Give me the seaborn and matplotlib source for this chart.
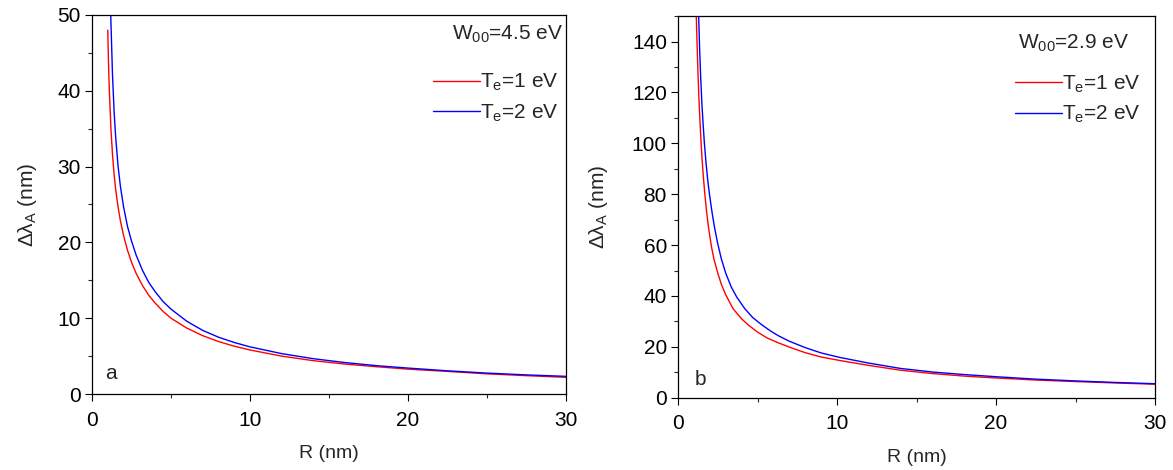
import pandas as pd
import matplotlib
matplotlib.use('Agg')
import matplotlib.pyplot as plt
import seaborn as sns
from matplotlib.ticker import MultipleLocator

# panel a (W00 = 4.5 eV)
r_a_te1 = [1.0, 1.05, 1.1, 1.2, 1.3, 1.4, 1.5, 1.65, 1.8, 2.0, 2.25, 2.5, 2.8, 3.2, 3.6, 4.0,
           4.5, 5, 6, 7, 8, 9, 10, 12, 14, 16, 18, 20, 22.5, 25, 27.5, 30]
dl_a_te1 = [48.0, 43.4, 40.0, 35.0, 31.6, 29.0, 27.0, 24.7, 22.85, 20.9, 18.96, 17.4, 15.9, 14.3, 13.0, 12.0,
            10.9, 10.0, 8.7, 7.7, 6.93, 6.31, 5.81, 5.0, 4.4, 3.95, 3.6, 3.28, 2.98, 2.66, 2.42, 2.2]
r_a_te2 = [1.15, 1.2, 1.3, 1.4, 1.5, 1.65, 1.8, 2.0, 2.25, 2.5, 2.8, 3.2, 3.6, 4.0, 4.5, 5,
           6, 7, 8, 9, 10, 12, 14, 16, 18, 20, 22.5, 25, 27.5, 30]
dl_a_te2 = [53.9, 49.1, 42.1, 37.3, 33.9, 30.1, 27.4, 24.7, 22.1, 20.2, 18.3, 16.3, 14.7, 13.5, 12.2, 11.2,
            9.6, 8.4, 7.5, 6.8, 6.22, 5.33, 4.66, 4.15, 3.74, 3.42, 3.06, 2.76, 2.52, 2.33]

# panel b (W00 = 2.9 eV)
r_b_te1 = [1.1, 1.15, 1.2, 1.26, 1.32, 1.38, 1.45, 1.51, 1.6, 1.68, 1.8, 1.93, 2.1, 2.26, 2.5, 2.73,
           3.0, 3.46, 4.0, 4.4, 5.0, 5.6, 6.3, 7.0, 8.0, 9.0, 10.2, 12, 14, 16, 18, 20, 22.5, 25, 27.5, 30]
dl_b_te1 = [165, 150, 139, 127, 117, 109, 100.5, 94, 86.5, 80.5, 73, 66.5, 59.5, 54.5, 49, 44.5,
            40.5, 35, 31, 28.7, 25.8, 23.5, 21.6, 19.9, 17.7, 16.0, 14.6, 12.7, 10.8, 9.5, 8.5, 7.75, 6.95, 6.35, 5.8, 5.3]
r_b_te2 = [1.25, 1.3, 1.36, 1.43, 1.5, 1.57, 1.66, 1.76, 1.87, 1.99, 2.15, 2.31, 2.5, 2.73, 3.0, 3.35,
           3.7, 4.2, 4.7, 5.24, 5.8, 6.3, 7.0, 8.0, 9.0, 10.2, 12, 14, 16, 18, 20, 22.5, 25, 27.5, 30]
dl_b_te2 = [165, 150, 137, 125.5, 116, 108.5, 100, 92.5, 85.5, 79.5, 72.5, 66.5, 60.5, 54.5, 49, 43.5,
            39.5, 35, 31.5, 28.8, 26.3, 24.4, 22.2, 19.7, 17.6, 15.8, 13.6, 11.5, 10.1, 9.1, 8.25, 7.3, 6.6, 6.0, 5.5]

te_labels = ['T$_\\mathrm{e}$=1 eV', 'T$_\\mathrm{e}$=2 eV']
colors = {te_labels[0]: '#ff0000', te_labels[1]: '#0000ff'}

sns.set_theme(style='ticks')
plt.rcParams['font.family'] = ['Liberation Sans', 'DejaVu Sans']
plt.rcParams['mathtext.fontset'] = 'custom'
plt.rcParams['mathtext.rm'] = 'Liberation Sans'
plt.rcParams['mathtext.it'] = 'Liberation Sans:italic'
plt.rcParams['mathtext.bf'] = 'Liberation Sans:bold'


def make_df(r1, d1, r2, d2):
    df1 = pd.DataFrame({'R': r1, 'dl': d1, 'Te': te_labels[0]})
    df2 = pd.DataFrame({'R': r2, 'dl': d2, 'Te': te_labels[1]})
    return pd.concat([df1, df2], ignore_index=True)


fig = plt.figure(figsize=(11.73, 4.70), dpi=100)
ax_a = fig.add_axes([0.0784, 0.1617, 0.4041, 0.8064])
ax_b = fig.add_axes([0.578, 0.1538, 0.4067, 0.812])

panels = [
    (ax_a, make_df(r_a_te1, dl_a_te1, r_a_te2, dl_a_te2), 50, 10, 5, 'a', (0.027, 0.055), 13),
    (ax_b, make_df(r_b_te1, dl_b_te1, r_b_te2, dl_b_te2), 150, 20, 10, 'b', (0.036, 0.047), 16),
]

for ax, df, ymax, ymaj, ymin, letter, lpos, ypad in panels:
    sns.lineplot(data=df, x='R', y='dl', hue='Te', palette=colors, estimator=None,
                 sort=False, linewidth=1.0, ax=ax)
    ax.set_xlim(0, 30)
    ax.set_ylim(0, ymax)
    ax.xaxis.set_major_locator(MultipleLocator(10))
    ax.xaxis.set_minor_locator(MultipleLocator(5))
    ax.yaxis.set_major_locator(MultipleLocator(ymaj))
    ax.yaxis.set_minor_locator(MultipleLocator(ymin))
    ax.tick_params(which='major', direction='out', length=5, width=0.8, labelsize=15,
                   colors='black', pad=3)
    ax.tick_params(axis='x', which='major', pad=7)
    ax.tick_params(which='minor', direction='out', length=3, width=0.8)
    for sp in ax.spines.values():
        sp.set_color('black')
        sp.set_linewidth(0.9)
    ax.set_xlabel('R (nm)', fontsize=14, labelpad=11)
    ax.set_ylabel('Δλ$_\\mathrm{A}$ (nm)', fontsize=15, labelpad=ypad)
    ax.text(lpos[0], lpos[1], letter, transform=ax.transAxes, fontsize=15, ha='left', va='center')

# annotations and legends
ax_a.text(0.994, 0.948, 'W$_{00}$=4.5 eV', transform=ax_a.transAxes, fontsize=15, ha='right', va='center')
ax_b.text(0.713, 0.929, 'W$_{00}$=2.9 eV', transform=ax_b.transAxes, fontsize=15, ha='left', va='center')

ax_a.legend(title=None, frameon=False, fontsize=15, loc='upper right', bbox_to_anchor=(0.985, 0.85),
            handlelength=2.25, handletextpad=0.0, labelspacing=0.45, borderaxespad=0, borderpad=0)
ax_b.legend(title=None, frameon=False, fontsize=15, loc='upper right', bbox_to_anchor=(0.969, 0.85),
            handlelength=2.25, handletextpad=0.0, labelspacing=0.45, borderaxespad=0, borderpad=0)

fig.savefig('out.png', dpi=100)
